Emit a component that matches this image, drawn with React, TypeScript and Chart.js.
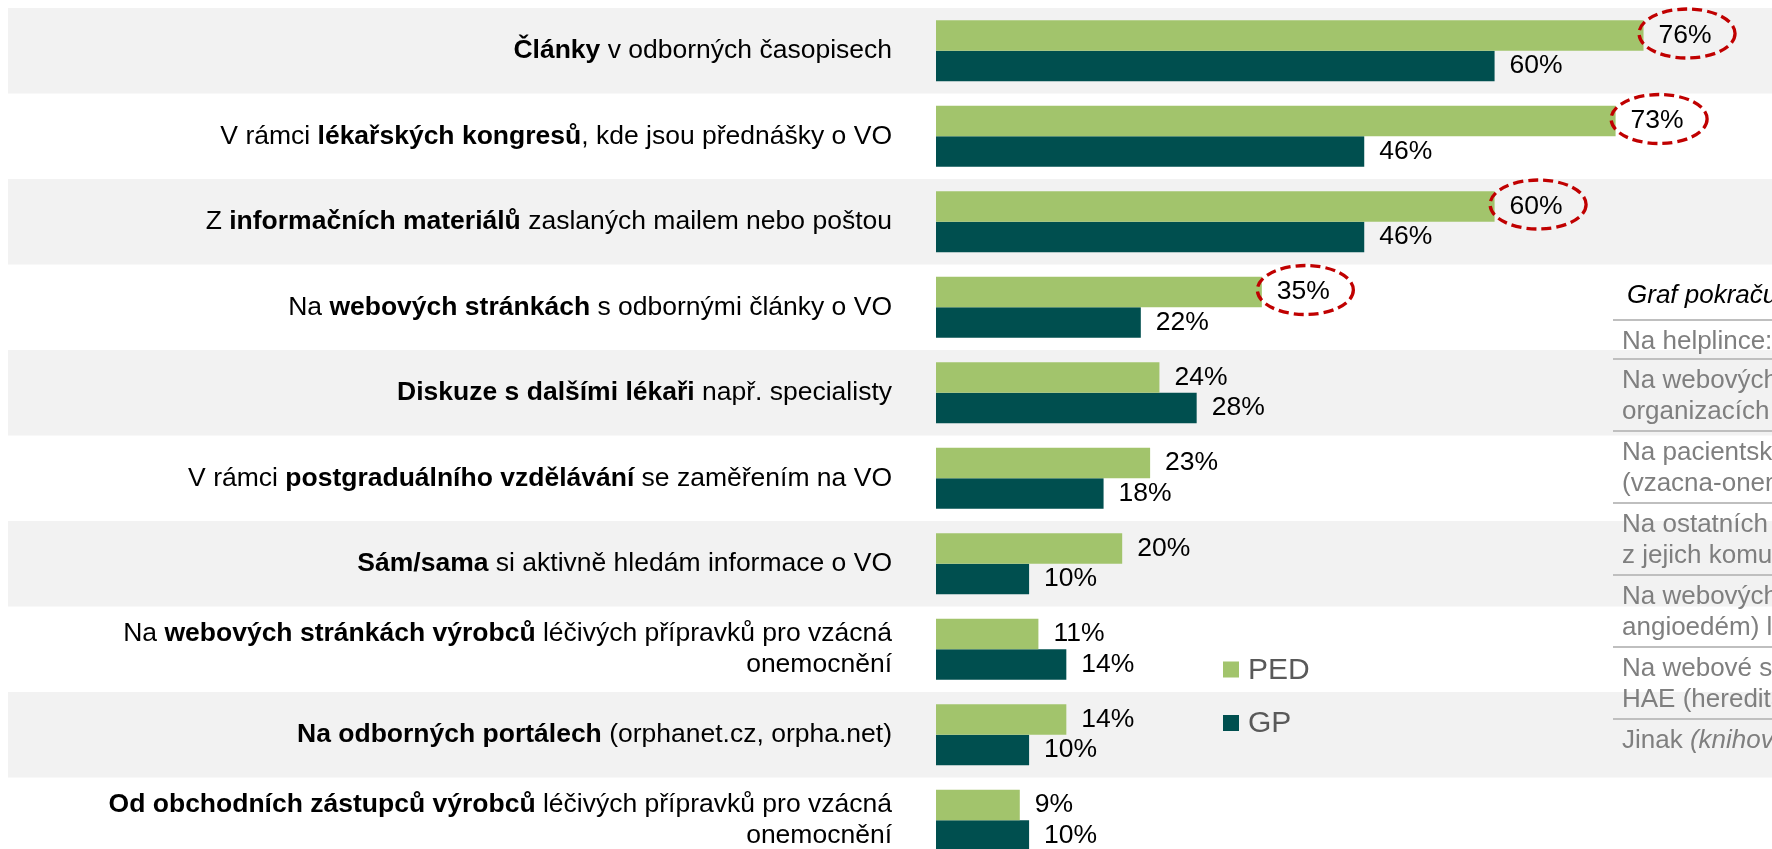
import React, { useEffect, useRef } from "react";
import { Chart, registerables } from "chart.js";

Chart.register(...registerables);

// ---------- data ----------
const categories = [
  "**Články** v odborných časopisech",
  "V rámci **lékařských kongresů**, kde jsou přednášky o VO",
  "Z **informačních materiálů** zaslaných mailem nebo poštou",
  "Na **webových stránkách** s odbornými články o VO",
  "**Diskuze s dalšími lékaři** např. specialisty",
  "V rámci **postgraduálního vzdělávání** se zaměřením na VO",
  "**Sám/sama** si aktivně hledám informace o VO",
  "Na **webových stránkách výrobců** léčivých přípravků pro vzácná\nonemocnění",
  "**Na odborných portálech** (orphanet.cz, orpha.net)",
  "**Od obchodních zástupců výrobců** léčivých přípravků pro vzácná\nonemocnění",
];
const seriesNames = ["PED", "GP"];
const pedValues = [76, 73, 60, 35, 24, 23, 20, 11, 14, 9];
const gpValues = [60, 46, 46, 22, 28, 18, 10, 14, 10, 10];
const highlightedPed = [0, 1, 2, 3];

const continuationTitle = "Graf pokračuje";
const continuationItems = [
  "Na helplince:",
  "Na webových stránkách\norganizacích",
  "Na pacientském webu\n(vzacna-onemocneni.cz)",
  "Na ostatních webech\nz jejich komunikace",
  "Na webových stránkách\nangioedém) lékařů",
  "Na webové stránce\nHAE (hereditární",
  "Jinak _(knihovna)_",
];

// ---------- styles ----------
const FONT = '"Liberation Sans", Arial, Helvetica, sans-serif';
const PED_COLOR = "#A2C46C";
const GP_COLOR = "#004F4F";
const BAND_COLOR = "#F2F2F2";
const CANVAS_W = 1772;
const CANVAS_H = 870;

type Seg = { text: string; bold: boolean; italic: boolean };

function parseRich(line: string): Seg[] {
  const segs: Seg[] = [];
  let bold = false;
  let italic = false;
  let buf = "";
  const push = () => {
    if (buf) segs.push({ text: buf, bold, italic });
    buf = "";
  };
  for (let i = 0; i < line.length; i++) {
    if (line.startsWith("**", i)) {
      push();
      bold = !bold;
      i++;
      continue;
    }
    if (line[i] === "_") {
      push();
      italic = !italic;
      continue;
    }
    buf += line[i];
  }
  push();
  return segs;
}

function segFont(s: Seg, size: number) {
  return `${s.italic ? "italic " : ""}${s.bold ? "bold " : ""}${size}px ${FONT}`;
}

function drawRichLine(
  ctx: CanvasRenderingContext2D,
  line: string,
  x: number,
  y: number,
  size: number,
  align: "left" | "right"
) {
  const segs = parseRich(line);
  let total = 0;
  const widths = segs.map((s) => {
    ctx.font = segFont(s, size);
    const w = ctx.measureText(s.text).width;
    total += w;
    return w;
  });
  let cx = align === "right" ? x - total : x;
  ctx.textAlign = "left";
  ctx.textBaseline = "middle";
  segs.forEach((s, i) => {
    ctx.font = segFont(s, size);
    ctx.fillText(s.text, cx, y);
    cx += widths[i];
  });
}

const decorPlugin = {
  id: "decor",
  beforeDatasetsDraw(chart: any) {
    const ctx: CanvasRenderingContext2D = chart.ctx;
    const y = chart.scales.y;
    const pitch = y.getPixelForValue(1) - y.getPixelForValue(0);
    ctx.save();
    ctx.fillStyle = BAND_COLOR;
    for (let i = 0; i < categories.length; i += 2) {
      const c = y.getPixelForValue(i);
      ctx.fillRect(8, c - pitch / 2, CANVAS_W, pitch);
    }
    ctx.restore();
  },
  afterDatasetsDraw(chart: any) {
    const ctx: CanvasRenderingContext2D = chart.ctx;
    const y = chart.scales.y;
    ctx.save();

    // category labels (rich text, right aligned)
    ctx.fillStyle = "#000000";
    categories.forEach((label, i) => {
      const lines = label.split("\n");
      const c = y.getPixelForValue(i);
      lines.forEach((ln, j) => {
        const ly = c + (j - (lines.length - 1) / 2) * 31;
        drawRichLine(ctx, ln, 892, ly, 26.5, "right");
      });
    });

    // value labels + highlight ellipses
    chart.data.datasets.forEach((ds: any, di: number) => {
      const meta = chart.getDatasetMeta(di);
      meta.data.forEach((el: any, i: number) => {
        const txt = `${ds.data[i]}%`;
        ctx.font = `26.5px ${FONT}`;
        ctx.fillStyle = "#000000";
        ctx.textAlign = "left";
        ctx.textBaseline = "middle";
        const tx = el.x + 15;
        ctx.fillText(txt, tx, el.y);
        if (di === 0 && highlightedPed.includes(i)) {
          const w = ctx.measureText(txt).width;
          ctx.beginPath();
          ctx.ellipse(tx + w / 2 + 2, el.y - 2, 48, 24.5, 0, 0, Math.PI * 2);
          ctx.setLineDash([10, 5]);
          ctx.lineWidth = 3.3;
          ctx.strokeStyle = "#C00000";
          ctx.stroke();
          ctx.setLineDash([]);
        }
      });
    });

    // legend
    chart.data.datasets.forEach((ds: any, di: number) => {
      const cy = 669.5 + di * 53.5;
      ctx.fillStyle = ds.backgroundColor;
      ctx.fillRect(1223, cy - 8, 16, 16);
      ctx.fillStyle = "#595959";
      ctx.font = `30px ${FONT}`;
      ctx.textAlign = "left";
      ctx.textBaseline = "middle";
      ctx.fillText(ds.label, 1248, cy + 1);
    });

    // continuation table
    ctx.fillStyle = "#000000";
    drawRichLine(ctx, `_${continuationTitle}_`, 1627, 296, 26, "left");
    let top = 320;
    const drawRule = (yy: number) => {
      ctx.beginPath();
      ctx.moveTo(1613, yy);
      ctx.lineTo(CANVAS_W, yy);
      ctx.lineWidth = 2;
      ctx.strokeStyle = "#BFBFBF";
      ctx.stroke();
    };
    continuationItems.forEach((item) => {
      drawRule(top);
      const lines = item.split("\n");
      ctx.fillStyle = "#7F7F7F";
      lines.forEach((ln, j) => {
        drawRichLine(ctx, ln, 1622, top + 22 + j * 31, 26, "left");
      });
      top += 39 + 33 * (lines.length - 1);
    });

    ctx.restore();
  },
};

export default function App() {
  const ref = useRef<HTMLCanvasElement | null>(null);

  useEffect(() => {
    const canvas = ref.current;
    if (!canvas) return;
    const chart = new Chart(canvas, {
      type: "bar",
      data: {
        labels: categories,
        datasets: [
          {
            label: seriesNames[0],
            data: pedValues,
            backgroundColor: PED_COLOR,
            barPercentage: 1,
            categoryPercentage: 0.713,
          },
          {
            label: seriesNames[1],
            data: gpValues,
            backgroundColor: GP_COLOR,
            barPercentage: 1,
            categoryPercentage: 0.713,
          },
        ],
      },
      options: {
        indexAxis: "y",
        responsive: false,
        maintainAspectRatio: false,
        animation: false,
        devicePixelRatio: 1,
        layout: { padding: { left: 936, right: 0, top: 8, bottom: 7 } },
        scales: {
          x: { min: 0, max: 89.8, display: false },
          y: { display: false },
        },
        plugins: {
          legend: { display: false },
          tooltip: { enabled: false },
        },
      },
      plugins: [decorPlugin],
    });
    return () => chart.destroy();
  }, []);

  return (
    <div
      style={{
        position: "fixed",
        left: 0,
        top: 0,
        width: CANVAS_W,
        height: 849,
        overflow: "hidden",
        background: "#ffffff",
      }}
    >
      <canvas
        ref={ref}
        width={CANVAS_W}
        height={CANVAS_H}
        style={{ width: CANVAS_W, height: CANVAS_H, display: "block" }}
      />
    </div>
  );
}
